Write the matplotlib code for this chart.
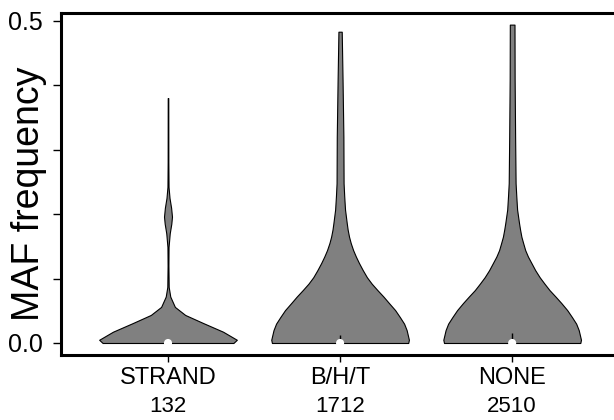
import matplotlib
matplotlib.use('Agg')
import matplotlib.pyplot as plt
import matplotlib.transforms as mtransforms

plt.rcParams['font.family'] = ['Liberation Sans', 'DejaVu Sans']

groups = ['STRAND', 'B/H/T', 'NONE']
counts = [132, 1712, 2510]

# violin outlines: MAF level and relative density (widest = 1)
strand_maf = [0.0, 0.005, 0.0175, 0.031, 0.0435, 0.056, 0.072, 0.087, 0.12, 0.149,
              0.17, 0.185, 0.196, 0.21, 0.225, 0.242, 0.28, 0.38]
strand_dens = [0.95, 1.0, 0.80, 0.51, 0.25, 0.10, 0.033, 0.010, 0.006, 0.008,
               0.025, 0.048, 0.058, 0.045, 0.022, 0.008, 0.005, 0.004]

bht_maf = [0.0, 0.005, 0.020, 0.030, 0.040, 0.051, 0.062, 0.072, 0.082, 0.092, 0.102,
           0.113, 0.124, 0.134, 0.144, 0.155, 0.165, 0.176, 0.186, 0.207, 0.228,
           0.248, 0.320, 0.408, 0.483]
bht_dens = [0.99, 1.0, 0.967, 0.93, 0.87, 0.80, 0.71, 0.63, 0.543, 0.46, 0.39,
            0.33, 0.275, 0.23, 0.19, 0.155, 0.13, 0.11, 0.097, 0.072, 0.06,
            0.051, 0.048, 0.036, 0.024]

none_maf = [0.0, 0.005, 0.020, 0.030, 0.040, 0.051, 0.062, 0.072, 0.082, 0.092, 0.102,
            0.113, 0.124, 0.134, 0.144, 0.155, 0.165, 0.176, 0.186, 0.207, 0.228,
            0.248, 0.320, 0.410, 0.494]
none_dens = [0.99, 1.0, 0.967, 0.93, 0.87, 0.80, 0.714, 0.63, 0.543, 0.47, 0.40,
             0.335, 0.28, 0.23, 0.19, 0.16, 0.134, 0.115, 0.10, 0.072, 0.06,
             0.05, 0.043, 0.036, 0.034]

q1 = [0.0, 0.004, 0.004]
q3 = [0.003, 0.012, 0.015]
medians = [0.0, 0.0, 0.0]

profiles = [(strand_maf, strand_dens), (bht_maf, bht_dens), (none_maf, none_dens)]

fig = plt.figure(figsize=(6.14, 4.2), dpi=100)
ax = fig.add_axes([0.0993, 0.1548, 0.917, 0.8142])

half = 0.4
for i, (maf, dens) in enumerate(profiles):
    x = i + 1
    w = [d * half for d in dens]
    ax.fill_betweenx(maf, [x - v for v in w], [x + v for v in w],
                     facecolor='#808080', edgecolor='black', linewidth=0.8, zorder=2)
    ax.vlines(x, q1[i], q3[i], color='black', linewidth=1.0, zorder=3)
    ax.scatter([x], [medians[i]], s=34, c='white', edgecolors='none', zorder=4)

ax.set_xlim(0.378, 3.65)
ax.set_ylim(-0.0186, 0.512)

ax.set_yticks([0.0, 0.1, 0.2, 0.3, 0.4, 0.5])
ax.set_yticklabels(['0.0', '', '', '', '', '0.5'], fontsize=18)
ax.set_xticks([1, 2, 3])
ax.set_xticklabels(groups, fontsize=17)
ax.tick_params(axis='y', length=6, width=1, pad=7)
ax.tick_params(axis='x', length=5, width=1, pad=4)

for side in ['left', 'top', 'bottom']:
    ax.spines[side].set_linewidth(2.2)
ax.spines['right'].set_visible(False)

ax.set_ylabel('MAF frequency', fontsize=27)
ax.yaxis.set_label_coords(-0.024, 0.47)

trans = mtransforms.blended_transform_factory(ax.transData, fig.transFigure)
for i, n in enumerate(counts):
    ax.text(i + 1, 0.031, str(n), transform=trans, ha='center', va='center', fontsize=16)

fig.savefig('out.png', dpi=100)
